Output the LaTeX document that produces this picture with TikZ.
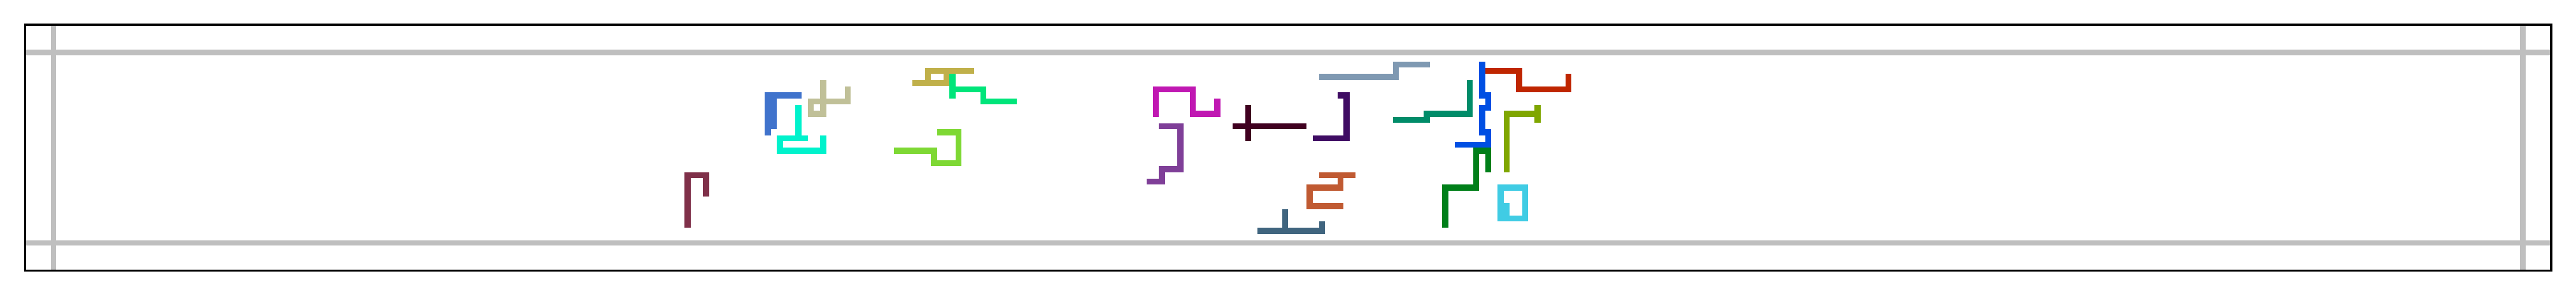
\documentclass[tikz,border=0pt]{standalone}
\usepackage{tikz}
\definecolor{guidegray}{HTML}{BFBFBF}
\definecolor{wmaroon}{HTML}{7F3049}
\definecolor{wroyal}{HTML}{4073CC}
\definecolor{wcyan}{HTML}{00F2CC}
\definecolor{wtan}{HTML}{C0C098}
\definecolor{wgold}{HTML}{C0B04A}
\definecolor{wspring}{HTML}{00E57A}
\definecolor{wlime}{HTML}{7ED834}
\definecolor{wmagenta}{HTML}{C018B2}
\definecolor{wpurple}{HTML}{7F3F98}
\definecolor{wwine}{HTML}{400020}
\definecolor{wsteel}{HTML}{40657F}
\definecolor{wslate}{HTML}{7F99B2}
\definecolor{windigo}{HTML}{3F0C63}
\definecolor{wteal}{HTML}{008C69}
\definecolor{wblue}{HTML}{004FE3}
\definecolor{wred}{HTML}{BF2600}
\definecolor{wolive}{HTML}{7FA600}
\definecolor{wforest}{HTML}{007F19}
\definecolor{wsky}{HTML}{40CCE4}
\definecolor{wrust}{HTML}{C05A32}

\begin{document}
\begin{tikzpicture}[
			x=2.5mm, y=-2.5mm,
			walk/.style={
					line width=6.9pt,
					line cap=rect,
					line join=miter,
				},
			guide/.style={
					line width=6.2pt,
					draw=guidegray,
				}
		]
		\useasboundingbox (-9.656,-8.508) rectangle (408.62,39.67);

		% Frame corners
		\coordinate (fnw) at (-5.57,-4.48);
		\coordinate (fse) at (404.57,35.5);

		% Guide lines
		\begin{scope}
			\clip (fnw) rectangle (fse);
			\draw[guide] (fnw |- 0,0) -- (fse |- 0,0);
			\draw[guide] (fnw |- 0,31) -- (fse |- 0,31);
			\draw[guide] (fnw -| -1,0) -- (fse -| -1,0);
			\draw[guide] (fnw -| 400,0) -- (fse -| 400,0);
		\end{scope}

		% Walks
		\draw[walk, wmaroon] (102,28) -- (102,20) -- (105,20) -- (105,23);
		\draw[walk, wroyal] (115,13) -- (115,7) -- (120,7) (116,7) -- (116,12);
		\draw[walk, wcyan] (120,9) -- (120,14) (121,14) -- (117,14) -- (117,16) -- (124,16) -- (124,14);
		\draw[walk, wtan] (124,5) -- (124,10) -- (122,10) -- (122,8) -- (128,8) -- (128,6);
		\draw[walk, wgold] (139,5) -- (144,5) -- (144,3) -- (148,3) (141,5) -- (141,3) -- (144,3);
		\draw[walk, wspring] (145,4) -- (145,7) (145,6) -- (150,6) -- (150,8) -- (155,8);
		\draw[walk, wlime] (136,16) -- (142,16) -- (142,18) -- (146,18) -- (146,13) -- (143,13);
		\draw[walk, wmagenta] (178,10) -- (178,6) -- (184,6) -- (184,10) -- (188,10) -- (188,8);
		\draw[walk, wpurple] (179,12) -- (182,12) -- (182,19) -- (179,19) -- (179,21) -- (177,21);
		\draw[walk, wwine] (191,12) -- (202,12) (193,9) -- (193,14);
		\draw[walk, wsteel] (195,29) -- (205,29) -- (205,28) (199,26) -- (199,29);
		\draw[walk, wslate] (205,4) -- (217,4) -- (217,2) -- (222,2);
		\draw[walk, windigo] (208,7) -- (209,7) -- (209,14) -- (204,14);
		\draw[walk, wrust] (205,20) -- (210,20) (208,20) -- (208,22) -- (203,22) -- (203,25) -- (208,25);
		\draw[walk, wteal] (229,5) -- (229,10) -- (222,10) -- (222,11) -- (217,11);
		\draw[walk, wred] (232,3) -- (237,3) -- (237,6) -- (245,6) -- (245,4);
		\draw[walk, wblue] (231,2) -- (231,7) -- (232,7) -- (232,9) -- (231,9) -- (231,13) -- (232,13) -- (232,15) -- (227,15);
		\draw[walk, wolive] (235,19) -- (235,10) -- (240,10) (240,9) -- (240,11);
		\draw[walk, wforest] (232,19) -- (232,16) -- (230,16) -- (230,22) -- (225,22) -- (225,28);
		\draw[walk, wsky] (234,22) rectangle (238,27) (234,25) -- (235,25) -- (235,27);

		% Frame
		\draw[line width=2.6pt] (fnw) rectangle (fse);

	\end{tikzpicture}
\end{document}
